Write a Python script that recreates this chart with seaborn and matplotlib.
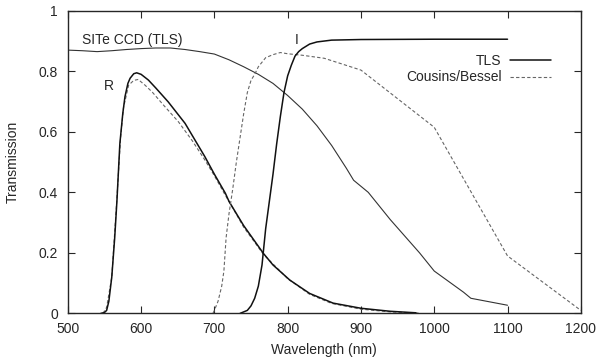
import numpy as np
import pandas as pd
import matplotlib
matplotlib.use('Agg')
import matplotlib.pyplot as plt
import seaborn as sns

# SITe CCD quantum efficiency (TLS)
ccd_wl = [500, 520, 540, 560, 580, 600, 620, 640, 660, 680, 700, 720, 740, 760, 780,
          800, 820, 840, 860, 880, 890, 910, 940, 960, 980, 1000, 1020, 1040, 1050, 1100]
ccd_tr = [0.870, 0.868, 0.865, 0.868, 0.872, 0.875, 0.877, 0.877, 0.872, 0.865, 0.857,
          0.838, 0.815, 0.790, 0.760, 0.720, 0.675, 0.620, 0.555, 0.480, 0.440, 0.400,
          0.310, 0.255, 0.200, 0.140, 0.105, 0.070, 0.050, 0.027]

# R filter, TLS
r_tls_wl = [545, 550, 553, 556, 560, 564, 567, 571, 575, 578, 582, 585, 590, 594, 600,
            610, 620, 637, 660, 687, 700, 715, 720, 740, 767, 780, 803, 830, 862, 900,
            940, 975]
r_tls_tr = [0.0, 0.003, 0.01, 0.04, 0.12, 0.25, 0.37, 0.56, 0.66, 0.716, 0.76, 0.777,
            0.792, 0.795, 0.79, 0.771, 0.745, 0.699, 0.628, 0.518, 0.46, 0.397, 0.37,
            0.29, 0.198, 0.16, 0.11, 0.066, 0.034, 0.017, 0.007, 0.002]

# R filter, Cousins/Bessel
r_cb_wl = [548, 553, 560, 567, 572, 576, 583, 590, 596, 605, 615, 630, 651, 670, 687,
           700, 715, 720, 740, 767, 800, 830, 860, 900, 940, 980]
r_cb_tr = [0.0, 0.02, 0.12, 0.38, 0.58, 0.68, 0.754, 0.77, 0.773, 0.755, 0.732, 0.69,
           0.633, 0.57, 0.507, 0.455, 0.39, 0.37, 0.285, 0.195, 0.115, 0.063, 0.033,
           0.014, 0.005, 0.001]

# I filter, TLS
i_tls_wl = [735, 745, 750, 755, 760, 765, 770, 775, 780, 785, 790, 795, 800, 805, 810,
            815, 820, 830, 840, 860, 900, 1000, 1100]
i_tls_tr = [0.0, 0.01, 0.025, 0.05, 0.09, 0.16, 0.28, 0.37, 0.46, 0.56, 0.65, 0.73,
            0.785, 0.82, 0.85, 0.865, 0.875, 0.89, 0.897, 0.903, 0.905, 0.906, 0.906]

# I filter, Cousins/Bessel
i_cb_wl = [698, 700, 705, 710, 713, 716, 720, 725, 730, 735, 740, 745, 750, 755, 760,
           770, 780, 790, 800, 820, 850, 900, 1000, 1100, 1200]
i_cb_tr = [0.0, 0.01, 0.04, 0.09, 0.14, 0.25, 0.33, 0.41, 0.50, 0.58, 0.66, 0.73, 0.77,
           0.79, 0.815, 0.845, 0.855, 0.862, 0.858, 0.853, 0.843, 0.804, 0.615, 0.19, 0.01]

sns.set_style('ticks')
plt.rcParams['font.family'] = ['Liberation Sans', 'DejaVu Sans']

fig = plt.figure(figsize=(6.0, 3.59), dpi=100)
ax = fig.add_axes([0.113, 0.127, 0.855, 0.843])

sns.lineplot(x=ccd_wl, y=ccd_tr, ax=ax, color='#333333', lw=0.8, sort=False)
sns.lineplot(x=r_cb_wl, y=r_cb_tr, ax=ax, color='#666666', lw=0.8, sort=False,
             linestyle=(0, (3, 2)))
sns.lineplot(x=r_tls_wl, y=r_tls_tr, ax=ax, color='#111111', lw=1.1, sort=False)
sns.lineplot(x=i_cb_wl, y=i_cb_tr, ax=ax, color='#666666', lw=0.8, sort=False,
             linestyle=(0, (3, 2)), label='Cousins/Bessel')
sns.lineplot(x=i_tls_wl, y=i_tls_tr, ax=ax, color='#111111', lw=1.1, sort=False,
             label='TLS')

ax.set_xlim(500, 1200)
ax.set_ylim(0, 1)
ax.set_xticks(np.arange(500, 1201, 100))
ax.set_yticks([0, 0.2, 0.4, 0.6, 0.8, 1])
ax.set_yticklabels(['0', '0.2', '0.4', '0.6', '0.8', '1'])
ax.tick_params(direction='in', length=5, width=0.8, top=True, right=True,
               labelsize=10)
ax.tick_params(axis='x', pad=6)
ax.tick_params(axis='y', pad=7)
for s in ax.spines.values():
    s.set_linewidth(1.0)
ax.set_xlabel('Wavelength (nm)', fontsize=10, labelpad=5)
ax.set_ylabel('Transmission', fontsize=10, labelpad=14)

ax.text(519, 0.905, 'SITe CCD (TLS)', fontsize=10, va='center')
ax.text(556, 0.75, 'R', fontsize=10, va='center', ha='center')
ax.text(812, 0.905, 'I', fontsize=10, va='center', ha='center')

handles, labels = ax.get_legend_handles_labels()
ax.legend(handles[::-1], labels[::-1], loc='upper right', frameon=False,
          markerfirst=False, fontsize=10, handlelength=2.95, handletextpad=0.6,
          labelspacing=0.15, borderpad=0, borderaxespad=0,
          bbox_to_anchor=(0.942, 0.856))

fig.savefig('out.png', dpi=100)
